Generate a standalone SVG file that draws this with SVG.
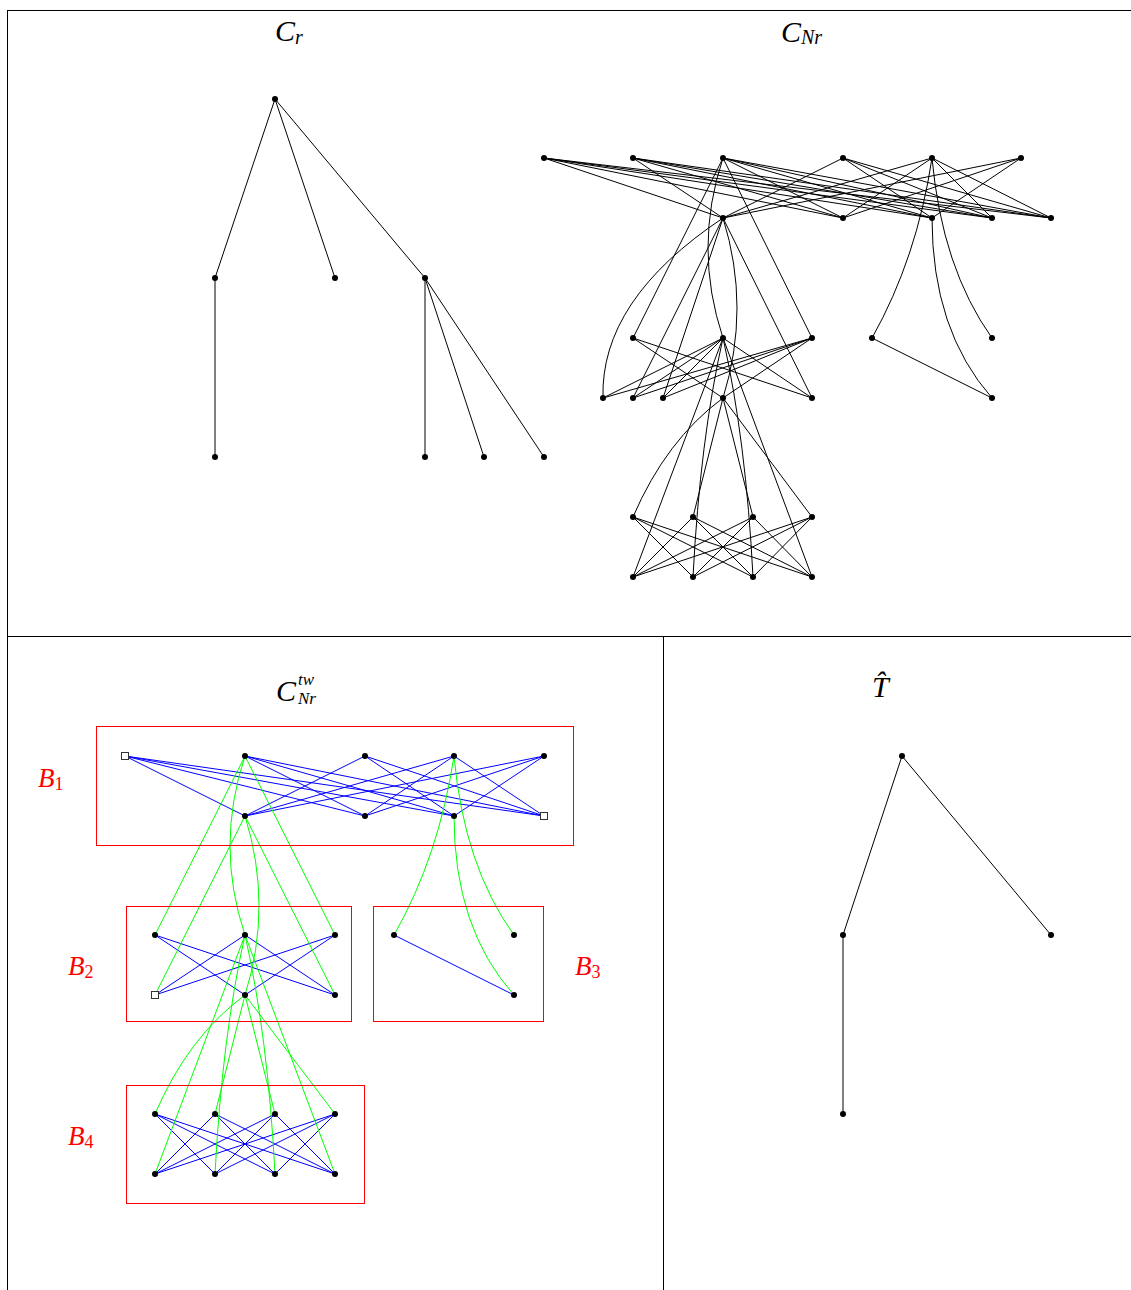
<svg xmlns="http://www.w3.org/2000/svg" width="1131" height="1290" viewBox="0 0 1131 1290">
<style>
.frame{stroke:#000;stroke-width:1;fill:none}
.k{stroke:#000;stroke-width:1;fill:none}
.b{stroke:#0000ff;stroke-width:1;fill:none}
.g{stroke:#00ff00;stroke-width:1;fill:none}
.box{stroke:#ff0000;stroke-width:1;fill:none}
.n circle{fill:#000}
.sq rect{fill:#fff;stroke:#333;stroke-width:1}
.t{font-family:"Liberation Serif",serif;font-style:italic;fill:#000}
.lab{font-family:"Liberation Serif",serif;font-style:italic;fill:#ff0000}
.up{font-style:normal}
</style>
<rect width="1131" height="1290" fill="#fff"/>
<g id="frame" class="frame">
<path d="M7 10.5H1131M7.5 10V1290M7 636.5H1131M663.5 636V1290"/>
</g>
<g id="titles">
<text class="t" x="275" y="41" font-size="30">C<tspan font-size="20" dy="3">r</tspan></text>
<text class="t" x="781" y="42" font-size="30">C<tspan font-size="20" dy="2">Nr</tspan></text>
<text class="t" x="276" y="701" font-size="30">C</text>
<text class="t" x="298" y="685" font-size="17">tw</text>
<text class="t" x="298" y="704" font-size="17">Nr</text>
<text class="t" x="872" y="697" font-size="30">T̂</text>
</g>
<g id="labels">
<text class="lab" x="38" y="787" font-size="27">B<tspan class="up" font-size="18" dy="3">1</tspan></text>
<text class="lab" x="68" y="975" font-size="27">B<tspan class="up" font-size="18" dy="3">2</tspan></text>
<text class="lab" x="575" y="975" font-size="27">B<tspan class="up" font-size="18" dy="3">3</tspan></text>
<text class="lab" x="68" y="1145" font-size="27">B<tspan class="up" font-size="18" dy="3">4</tspan></text>
</g>
<g id="connectors">
<!-- C_r tree -->
<path class="k" d="M275 99L215 278M275 99L335 278M275 99L425 278M215 278L215 457M425 278L425 457M425 278L484 457M425 278L544 457"/>
<!-- T hat tree -->
<path class="k" d="M902 756L843 935M902 756L1051 935M843 935L843 1114"/>
<!-- C_Nr -->
<path class="k" d="M544 158L723 218M544 158L843 218M544 158L932 218M544 158L992 218M544 158L1051 218
M633 158L723 218M633 158L843 218M633 158L932 218M633 158L992 218M633 158L1051 218
M723 158L843 218M723 158L932 218M723 158L992 218M723 158L1051 218
M843 158L723 218M843 158L932 218M843 158L992 218M843 158L1051 218
M932 158L723 218M932 158L843 218M932 158L992 218M932 158L1051 218
M1021 158L723 218M1021 158L843 218M1021 158L932 218"/>
<path class="k" d="M723 158L633 338M723 158Q693 248 723 338M723 158L812 338
M723 218Q600 300 603 398M723 218L633 398M723 218L663 398M723 218Q751 308 723 398M723 218L812 398
M633 338L723 398M633 338L812 398M723 338L603 398M723 338L633 398M723 338L663 398M723 338L812 398
M812 338L603 398M812 338L633 398M812 338L663 398M812 338L723 398
M932 158Q917 258 872 338M932 158Q942 268 992 338M932 218Q932 330 992 398M872 338L992 398
M723 398Q666 440 633 517M723 398L693 517M723 398L753 517M723 398L812 517
M723 338L633 577M723 338Q700 440 693 577M723 338Q746 440 753 577M723 338L812 577
M633 517L693 577M633 517L753 577M633 517L812 577M693 517L633 577M693 517L753 577M693 517L812 577
M753 517L633 577M753 517L693 577M753 517L812 577M812 517L633 577M812 517L693 577M812 517L753 577"/>
<!-- C_Nr^tw blue -->
<path class="b" d="M125 756L245 816M125 756L365 816M125 756L454 816M125 756L544 816
M245 756L365 816M245 756L454 816M245 756L544 816M365 756L245 816M365 756L454 816M365 756L544 816
M454 756L245 816M454 756L365 816M454 756L544 816M544 756L245 816M544 756L365 816M544 756L454 816
M155 935L245 995M155 935L335 995M245 935L155 995M245 935L335 995M335 935L155 995M335 935L245 995
M394 935L514 995
M155 1114L215 1174M155 1114L275 1174M155 1114L335 1174M215 1114L155 1174M215 1114L275 1174M215 1114L335 1174
M275 1114L155 1174M275 1114L215 1174M275 1114L335 1174M335 1114L155 1174M335 1114L215 1174M335 1114L275 1174"/>
<!-- C_Nr^tw green -->
<path class="g" d="M245 756L155 935M245 756Q215 846 245 935M245 756L335 935
M245 816L155 995M245 816Q273 906 245 995M245 816L335 995
M454 756Q439 856 394 935M454 756Q464 866 514 935M454 816Q454 928 514 995
M245 995Q188 1037 155 1114M245 995L215 1114M245 995L275 1114M245 995L335 1114
M245 935L155 1174M245 935Q222 1037 215 1174M245 935Q268 1037 275 1174M245 935L335 1174"/>
<!-- red blocks -->
<rect class="box" x="96.5" y="726.5" width="477" height="119"/>
<rect class="box" x="126.5" y="906.5" width="225" height="115"/>
<rect class="box" x="373.5" y="906.5" width="170" height="115"/>
<rect class="box" x="126.5" y="1085.5" width="238" height="118"/>
</g>
<!-- C_r nodes -->
<g id="cr-root" class="n"><circle cx="275" cy="99" r="3"/></g>
<g id="cr-a" class="n"><circle cx="215" cy="278" r="3"/></g>
<g id="cr-b" class="n"><circle cx="335" cy="278" r="3"/></g>
<g id="cr-c" class="n"><circle cx="425" cy="278" r="3"/></g>
<g id="cr-d" class="n"><circle cx="215" cy="457" r="3"/></g>
<g id="cr-e" class="n"><circle cx="425" cy="457" r="3"/></g>
<g id="cr-f" class="n"><circle cx="484" cy="457" r="3"/></g>
<g id="cr-g" class="n"><circle cx="544" cy="457" r="3"/></g>
<!-- C_Nr nodes -->
<g id="cn-t1" class="n"><circle cx="544" cy="158" r="3"/></g>
<g id="cn-t2" class="n"><circle cx="633" cy="158" r="3"/></g>
<g id="cn-t3" class="n"><circle cx="723" cy="158" r="3"/></g>
<g id="cn-t4" class="n"><circle cx="843" cy="158" r="3"/></g>
<g id="cn-t5" class="n"><circle cx="932" cy="158" r="3"/></g>
<g id="cn-t6" class="n"><circle cx="1021" cy="158" r="3"/></g>
<g id="cn-s1" class="n"><circle cx="723" cy="218" r="3"/></g>
<g id="cn-s2" class="n"><circle cx="843" cy="218" r="3"/></g>
<g id="cn-s3" class="n"><circle cx="932" cy="218" r="3"/></g>
<g id="cn-s4" class="n"><circle cx="992" cy="218" r="3"/></g>
<g id="cn-s5" class="n"><circle cx="1051" cy="218" r="3"/></g>
<g id="cn-u1" class="n"><circle cx="633" cy="338" r="3"/></g>
<g id="cn-u2" class="n"><circle cx="723" cy="338" r="3"/></g>
<g id="cn-u3" class="n"><circle cx="812" cy="338" r="3"/></g>
<g id="cn-u4" class="n"><circle cx="872" cy="338" r="3"/></g>
<g id="cn-u5" class="n"><circle cx="992" cy="338" r="3"/></g>
<g id="cn-v1" class="n"><circle cx="603" cy="398" r="3"/></g>
<g id="cn-v2" class="n"><circle cx="633" cy="398" r="3"/></g>
<g id="cn-v3" class="n"><circle cx="663" cy="398" r="3"/></g>
<g id="cn-v4" class="n"><circle cx="723" cy="398" r="3"/></g>
<g id="cn-v5" class="n"><circle cx="812" cy="398" r="3"/></g>
<g id="cn-v6" class="n"><circle cx="992" cy="398" r="3"/></g>
<g id="cn-w1" class="n"><circle cx="633" cy="517" r="3"/></g>
<g id="cn-w2" class="n"><circle cx="693" cy="517" r="3"/></g>
<g id="cn-w3" class="n"><circle cx="753" cy="517" r="3"/></g>
<g id="cn-w4" class="n"><circle cx="812" cy="517" r="3"/></g>
<g id="cn-x1" class="n"><circle cx="633" cy="577" r="3"/></g>
<g id="cn-x2" class="n"><circle cx="693" cy="577" r="3"/></g>
<g id="cn-x3" class="n"><circle cx="753" cy="577" r="3"/></g>
<g id="cn-x4" class="n"><circle cx="812" cy="577" r="3"/></g>
<!-- C_Nr^tw nodes -->
<g id="tw-p1" class="sq"><rect x="121.5" y="752.5" width="7" height="7"/></g>
<g id="tw-p2" class="n"><circle cx="245" cy="756" r="3"/></g>
<g id="tw-p3" class="n"><circle cx="365" cy="756" r="3"/></g>
<g id="tw-p4" class="n"><circle cx="454" cy="756" r="3"/></g>
<g id="tw-p5" class="n"><circle cx="544" cy="756" r="3"/></g>
<g id="tw-q1" class="n"><circle cx="245" cy="816" r="3"/></g>
<g id="tw-q2" class="n"><circle cx="365" cy="816" r="3"/></g>
<g id="tw-q3" class="n"><circle cx="454" cy="816" r="3"/></g>
<g id="tw-q4" class="sq"><rect x="540.5" y="812.5" width="7" height="7"/></g>
<g id="tw-u1" class="n"><circle cx="155" cy="935" r="3"/></g>
<g id="tw-u2" class="n"><circle cx="245" cy="935" r="3"/></g>
<g id="tw-u3" class="n"><circle cx="335" cy="935" r="3"/></g>
<g id="tw-u4" class="n"><circle cx="394" cy="935" r="3"/></g>
<g id="tw-u5" class="n"><circle cx="514" cy="935" r="3"/></g>
<g id="tw-v1" class="sq"><rect x="151.5" y="991.5" width="7" height="7"/></g>
<g id="tw-v4" class="n"><circle cx="245" cy="995" r="3"/></g>
<g id="tw-v5" class="n"><circle cx="335" cy="995" r="3"/></g>
<g id="tw-v6" class="n"><circle cx="514" cy="995" r="3"/></g>
<g id="tw-w1" class="n"><circle cx="155" cy="1114" r="3"/></g>
<g id="tw-w2" class="n"><circle cx="215" cy="1114" r="3"/></g>
<g id="tw-w3" class="n"><circle cx="275" cy="1114" r="3"/></g>
<g id="tw-w4" class="n"><circle cx="335" cy="1114" r="3"/></g>
<g id="tw-x1" class="n"><circle cx="155" cy="1174" r="3"/></g>
<g id="tw-x2" class="n"><circle cx="215" cy="1174" r="3"/></g>
<g id="tw-x3" class="n"><circle cx="275" cy="1174" r="3"/></g>
<g id="tw-x4" class="n"><circle cx="335" cy="1174" r="3"/></g>
<!-- T hat nodes -->
<g id="th-root" class="n"><circle cx="902" cy="756" r="3"/></g>
<g id="th-b2" class="n"><circle cx="843" cy="935" r="3"/></g>
<g id="th-b3" class="n"><circle cx="1051" cy="935" r="3"/></g>
<g id="th-b4" class="n"><circle cx="843" cy="1114" r="3"/></g>
</svg>
